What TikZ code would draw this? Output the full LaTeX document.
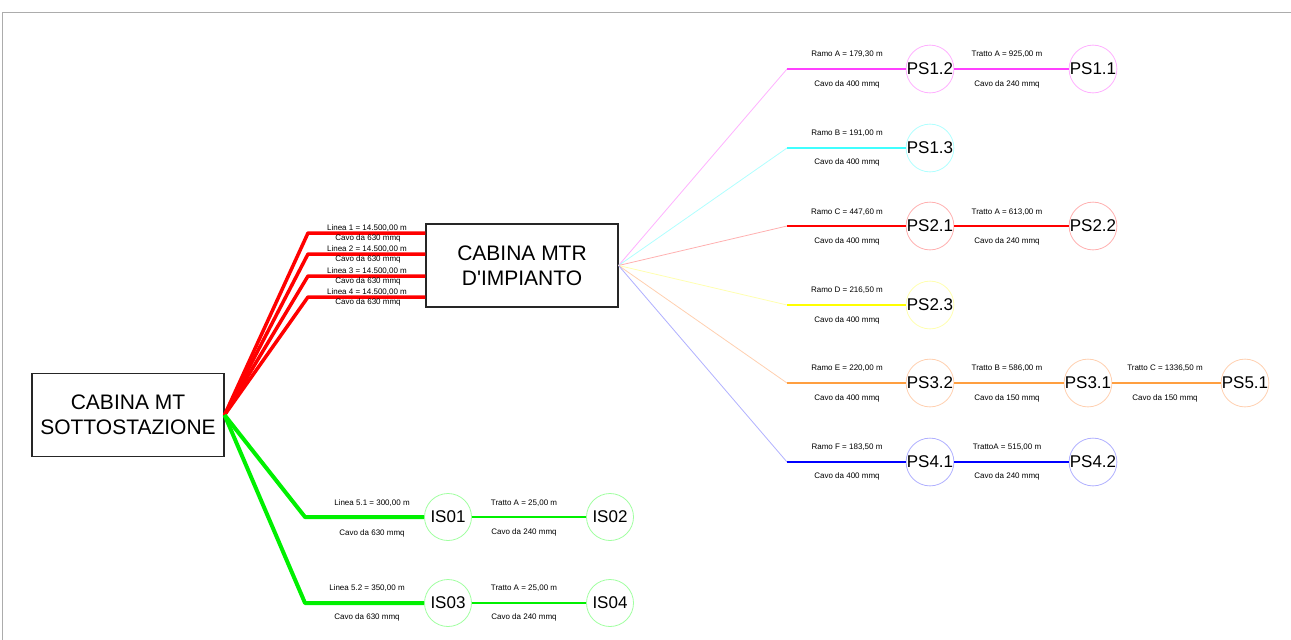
\documentclass[tikz,border=0pt]{standalone}
\usepackage{fontspec}
\setmainfont{Liberation Sans}
\definecolor{cmag}{HTML}{FF40FF}\definecolor{cmagl}{HTML}{FFB0FF}
\definecolor{ccya}{HTML}{40FFFF}\definecolor{ccyal}{HTML}{B0FFFF}
\definecolor{cred}{HTML}{FF0000}\definecolor{credl}{HTML}{FFB0B0}
\definecolor{cyel}{HTML}{FFFF00}\definecolor{cyell}{HTML}{FFFFB0}
\definecolor{cora}{HTML}{FF9F40}\definecolor{coral}{HTML}{FFD0B0}
\definecolor{cblu}{HTML}{0000FF}\definecolor{cblul}{HTML}{B0B0FF}
\definecolor{cgre}{HTML}{00F000}\definecolor{cgrel}{HTML}{A0FFA0}
\tikzset{
  bigbox/.style={draw=black!85, line width=1.1pt, minimum width=192pt, minimum height=83pt, align=center, font=\fontsize{21}{25}\selectfont, inner sep=0pt},
  station/.style={circle, draw=#1, line width=0.8pt, minimum size=47pt, inner sep=0pt, font=\fontsize{17}{17}\selectfont},
  lab/.style={font=\fontsize{8}{9}\selectfont, inner sep=0pt},
  fan/.style={draw=#1, line width=0.8pt},
  ramo/.style={draw=#1, line width=2pt},
  tratto/.style={draw=#1, line width=1.5pt},
}
\begin{document}
\begin{tikzpicture}[x=1pt,y=-1pt]
\useasboundingbox (0,0) rectangle (1291,640);
\draw[gray!65, line width=1.5pt] (2.5,650) -- (2.5,12.5) -- (1300,12.5);

% main boxes
\node[bigbox] (mt) at (128,415) {CABINA MT\\SOTTOSTAZIONE};
\node[bigbox] (mtr) at (522,265.5) {CABINA MTR\\D\textquotesingle IMPIANTO};

% red lines
\foreach \i/\y in {1/233,2/254,3/276,4/297}{
  \coordinate (r\i) at (308,\y);
  \draw[cred, line width=3.5pt, line join=round] (mt.east) -- (r\i) -- (r\i -| mtr.west);
  \node[lab] (rl\i) at (367,\y-5) {Linea \i\ = 14.500,00 m};
  \node[lab] (rc\i) at (368,\y+5) {Cavo da 630 mmq};
}

% green lines
\node[station=cgrel] (is01) at (448,517) {IS01};
\node[station=cgrel] (is02) at (610,517) {IS02};
\node[station=cgrel] (is03) at (448,603) {IS03};
\node[station=cgrel] (is04) at (610,603) {IS04};
\coordinate (g1) at (305,517);
\coordinate (g2) at (305,603);
\draw[cgre, line width=4pt, line join=round] (mt.east) -- (g1) -- (is01);
\draw[cgre, line width=4pt, line join=round] (mt.east) -- (g2) -- (is03);
\draw[cgre, line width=1.3pt] (is01) -- (is02);
\draw[cgre, line width=1.3pt] (is03) -- (is04);
\node[lab] at (372,503) {Linea 5.1 = 300,00 m};
\node[lab] at (372,533) {Cavo da 630 mmq};
\node[lab] at (524,503) {Tratto A = 25,00 m};
\node[lab] at (524,532) {Cavo da 240 mmq};
\node[lab] at (367,588) {Linea 5.2 = 350,00 m};
\node[lab] at (367,617) {Cavo da 630 mmq};
\node[lab] at (524,588) {Tratto A = 25,00 m};
\node[lab] at (524,617) {Cavo da 240 mmq};

% right side stations
\node[station=cmagl] (ps12) at (930,69) {PS1.2};
\node[station=cmagl] (ps11) at (1093,69) {PS1.1};
\node[station=ccyal] (ps13) at (930,148) {PS1.3};
\node[station=credl] (ps21) at (930,226) {PS2.1};
\node[station=credl] (ps22) at (1093,226) {PS2.2};
\node[station=cyell] (ps23) at (930,305) {PS2.3};
\node[station=coral] (ps32) at (930,383) {PS3.2};
\node[station=coral] (ps31) at (1088,383) {PS3.1};
\node[station=coral] (ps51) at (1245,383) {PS5.1};
\node[station=cblul] (ps41) at (930,462) {PS4.1};
\node[station=cblul] (ps42) at (1093,462) {PS4.2};

\coordinate (ka) at (787,69);
\coordinate (kb) at (787,148);
\coordinate (kc) at (787,226);
\coordinate (kd) at (787,305);
\coordinate (ke) at (787,383);
\coordinate (kf) at (787,462);

\draw[fan=cmagl] (mtr.east) -- (ka); \draw[ramo=cmag] (ka) -- (ps12);
\draw[fan=ccyal] (mtr.east) -- (kb); \draw[ramo=ccya] (kb) -- (ps13);
\draw[fan=credl] (mtr.east) -- (kc); \draw[tratto=cred] (kc) -- (ps21);
\draw[fan=cyell] (mtr.east) -- (kd); \draw[tratto=cyel] (kd) -- (ps23);
\draw[fan=coral] (mtr.east) -- (ke); \draw[tratto=cora] (ke) -- (ps32);
\draw[fan=cblul] (mtr.east) -- (kf); \draw[tratto=cblu] (kf) -- (ps41);

\draw[ramo=cmag] (ps12) -- (ps11);
\draw[tratto=cred] (ps21) -- (ps22);
\draw[tratto=cora] (ps32) -- (ps31);
\draw[tratto=cora] (ps31) -- (ps51);
\draw[tratto=cblu] (ps41) -- (ps42);

% labels right
\node[lab] at (847,54) {Ramo A = 179,30 m};
\node[lab] at (847,84) {Cavo da 400 mmq};
\node[lab] at (1007,54) {Tratto A = 925,00 m};
\node[lab] at (1007,84) {Cavo da 240 mmq};
\node[lab] at (847,133) {Ramo B = 191,00 m};
\node[lab] at (847,162) {Cavo da 400 mmq};
\node[lab] at (847,212) {Ramo C = 447,60 m};
\node[lab] at (847,241) {Cavo da 400 mmq};
\node[lab] at (1007,212) {Tratto A = 613,00 m};
\node[lab] at (1007,241) {Cavo da 240 mmq};
\node[lab] at (847,290) {Ramo D = 216,50 m};
\node[lab] at (847,320) {Cavo da 400 mmq};
\node[lab] at (847,368) {Ramo E = 220,00 m};
\node[lab] at (847,398) {Cavo da 400 mmq};
\node[lab] at (1007,368) {Tratto B = 586,00 m};
\node[lab] at (1007,398) {Cavo da 150 mmq};
\node[lab] at (1165,368) {Tratto C = 1336,50 m};
\node[lab] at (1165,398) {Cavo da 150 mmq};
\node[lab] at (847,447) {Ramo F = 183,50 m};
\node[lab] at (847,476) {Cavo da 400 mmq};
\node[lab] at (1007,447) {TrattoA = 515,00 m};
\node[lab] at (1007,476) {Cavo da 240 mmq};
\end{tikzpicture}
\end{document}
